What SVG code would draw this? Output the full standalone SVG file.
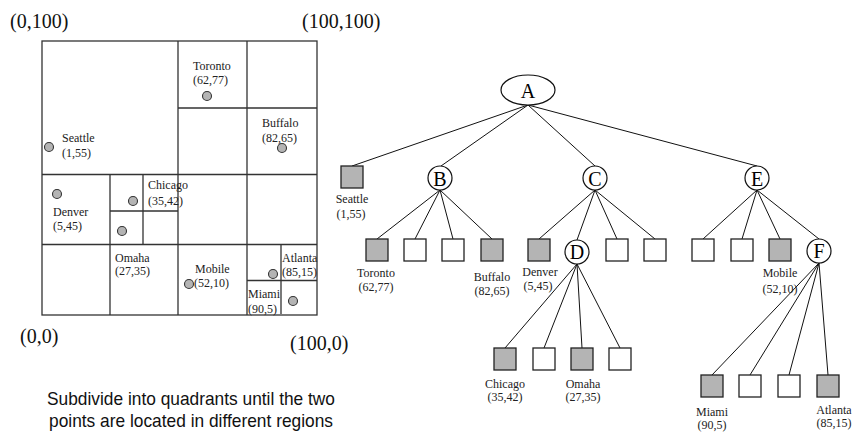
<svg xmlns="http://www.w3.org/2000/svg" width="853" height="434" viewBox="0 0 853 434">
  <style>
    .grid { fill: none; stroke: #333; stroke-width: 1.3; }
    .pt { fill: #b4b4b4; stroke: #333; stroke-width: 1.1; }
    .lbl { font-family: "Liberation Serif", "Times New Roman", serif; font-size: 12px; fill: #222; }
    .mid { text-anchor: middle; }
    .corner { font-family: "Liberation Serif", "Times New Roman", serif; font-size: 20px; fill: #111; }
    .cap { font-family: "Liberation Sans", Arial, sans-serif; font-size: 19px; fill: #111; text-anchor: middle; }
    .edge { stroke: #111; stroke-width: 1; fill: none; }
    .inner { fill: #fff; stroke: #111; stroke-width: 1.2; }
    .leaf { fill: #fff; stroke: #222; stroke-width: 1.3; }
    .full { fill: #b4b4b4; stroke: #222; stroke-width: 1.3; }
    .nl { font-family: "Liberation Serif", "Times New Roman", serif; font-size: 20px; fill: #000; text-anchor: middle; }
  </style>

  <!-- Spatial subdivision of the unit square -->
  <g id="region-map">
    <rect class="grid" x="42" y="41" width="275" height="274"/>
    <path class="grid" d="M178 41V315 M247 41V315 M178 108H317 M42 174.5H317 M42 244.5H317 M110 174.5V315 M143 174.5V244.5 M110 211H178 M247 280.5H317 M281 244.5V314"/>
  </g>

  <g id="corner-labels">
    <text class="corner" x="10" y="28">(0,100)</text>
    <text class="corner" x="302" y="28">(100,100)</text>
    <text class="corner" x="20" y="343">(0,0)</text>
    <text class="corner" x="290" y="350">(100,0)</text>
  </g>

  <g id="map-points">
    <circle class="pt" cx="207" cy="96" r="4.5"/>
    <circle class="pt" cx="282" cy="148" r="4.5"/>
    <circle class="pt" cx="49" cy="147" r="4.5"/>
    <circle class="pt" cx="57" cy="194" r="4.5"/>
    <circle class="pt" cx="133" cy="201" r="4.5"/>
    <circle class="pt" cx="122" cy="231" r="4.5"/>
    <circle class="pt" cx="189" cy="284" r="4.5"/>
    <circle class="pt" cx="273" cy="274" r="4.5"/>
    <circle class="pt" cx="293" cy="301" r="4.5"/>
  </g>

  <g id="map-labels">
    <text class="lbl" x="193" y="70">Toronto</text>
    <text class="lbl" x="193" y="84">(62,77)</text>
    <text class="lbl" x="62" y="142">Seattle</text>
    <text class="lbl" x="62" y="157">(1,55)</text>
    <text class="lbl" x="262" y="127">Buffalo</text>
    <text class="lbl" x="262" y="142">(82,65)</text>
    <text class="lbl" x="148" y="189">Chicago</text>
    <text class="lbl" x="148" y="205">(35,42)</text>
    <text class="lbl" x="53" y="216">Denver</text>
    <text class="lbl" x="53" y="230">(5,45)</text>
    <text class="lbl" x="115" y="262">Omaha</text>
    <text class="lbl" x="115" y="275">(27,35)</text>
    <text class="lbl" x="195" y="273">Mobile</text>
    <text class="lbl" x="194" y="287">(52,10)</text>
    <text class="lbl" x="282" y="262">Atlanta</text>
    <text class="lbl" x="282" y="276">(85,15)</text>
    <text class="lbl" x="248" y="298">Miami</text>
    <text class="lbl" x="248" y="313">(90,5)</text>
  </g>

  <g id="caption">
    <text class="cap" x="191" y="405" textLength="288" lengthAdjust="spacingAndGlyphs">Subdivide into quadrants until the two</text>
    <text class="cap" x="191" y="427" textLength="284" lengthAdjust="spacingAndGlyphs">points are located in different regions</text>
  </g>

  <!-- Tree edges -->
  <g id="connectors">
    <path class="edge" d="M528 105L352 166 M528 105L441 166 M528 105L595 166 M528 105L757 166"/>
    <path class="edge" d="M440 190L377 239 M440 190L415 239 M440 190L453 239 M440 190L492 239"/>
    <path class="edge" d="M595 190L539 239 M595 190L577 240 M595 190L617 239 M595 190L655 239"/>
    <path class="edge" d="M757 190L703 239 M757 190L742 239 M757 190L780 239 M757 190L819 239"/>
    <path class="edge" d="M577 264L505 348 M577 264L544 348 M577 264L582 348 M577 264L620 348"/>
    <path class="edge" d="M819 263L712 375 M819 263L750 375 M819 263L789 375 M819 263L828 375"/>
  </g>

  <g id="node-A">
    <ellipse class="inner" cx="528" cy="90" rx="27" ry="15"/>
    <text class="nl" x="528" y="98">A</text>
  </g>
  <g id="node-B">
    <circle class="inner" cx="440" cy="178" r="12"/>
    <text class="nl" x="440" y="185.5">B</text>
  </g>
  <g id="node-C">
    <circle class="inner" cx="595" cy="178" r="12"/>
    <text class="nl" x="595" y="185.5">C</text>
  </g>
  <g id="node-E">
    <circle class="inner" cx="757" cy="178" r="12"/>
    <text class="nl" x="757" y="185.5">E</text>
  </g>
  <g id="node-D">
    <circle class="inner" cx="577" cy="252" r="12"/>
    <text class="nl" x="577" y="259">D</text>
  </g>
  <g id="node-F">
    <circle class="inner" cx="819" cy="251" r="12"/>
    <text class="nl" x="819" y="258">F</text>
  </g>

  <g id="leaf-seattle">
    <rect class="full" x="341" y="166" width="22" height="22"/>
    <text class="lbl mid" x="352" y="203">Seattle</text>
    <text class="lbl mid" x="351" y="218">(1,55)</text>
  </g>
  <g id="leaf-toronto">
    <rect class="full" x="366" y="239" width="22" height="22"/>
    <text class="lbl mid" x="376" y="277">Toronto</text>
    <text class="lbl mid" x="376" y="291">(62,77)</text>
  </g>
  <g id="leaf-b2"><rect class="leaf" x="404" y="239" width="22" height="22"/></g>
  <g id="leaf-b3"><rect class="leaf" x="442" y="239" width="22" height="22"/></g>
  <g id="leaf-buffalo">
    <rect class="full" x="481" y="239" width="22" height="22"/>
    <text class="lbl mid" x="492" y="281">Buffalo</text>
    <text class="lbl mid" x="492" y="295">(82,65)</text>
  </g>
  <g id="leaf-denver">
    <rect class="full" x="528" y="239" width="22" height="22"/>
    <text class="lbl mid" x="540" y="276">Denver</text>
    <text class="lbl mid" x="538" y="290">(5,45)</text>
  </g>
  <g id="leaf-c3"><rect class="leaf" x="606" y="239" width="22" height="22"/></g>
  <g id="leaf-c4"><rect class="leaf" x="644" y="239" width="22" height="22"/></g>
  <g id="leaf-e1"><rect class="leaf" x="692" y="239" width="22" height="22"/></g>
  <g id="leaf-e2"><rect class="leaf" x="731" y="239" width="22" height="22"/></g>
  <g id="leaf-mobile">
    <rect class="full" x="769" y="239" width="22" height="22"/>
    <text class="lbl mid" x="780" y="277">Mobile</text>
    <text class="lbl mid" x="780" y="293">(52,10)</text>
  </g>
  <g id="leaf-chicago">
    <rect class="full" x="494" y="348" width="22" height="22"/>
    <text class="lbl mid" x="505" y="388">Chicago</text>
    <text class="lbl mid" x="505" y="401">(35,42)</text>
  </g>
  <g id="leaf-d2"><rect class="leaf" x="533" y="348" width="22" height="22"/></g>
  <g id="leaf-omaha">
    <rect class="full" x="571" y="348" width="22" height="22"/>
    <text class="lbl mid" x="583" y="388">Omaha</text>
    <text class="lbl mid" x="583" y="401">(27,35)</text>
  </g>
  <g id="leaf-d4"><rect class="leaf" x="609" y="348" width="22" height="22"/></g>
  <g id="leaf-miami">
    <rect class="full" x="701" y="375" width="22" height="22"/>
    <text class="lbl mid" x="712" y="416">Miami</text>
    <text class="lbl mid" x="712" y="429">(90,5)</text>
  </g>
  <g id="leaf-f2"><rect class="leaf" x="739" y="375" width="22" height="22"/></g>
  <g id="leaf-f3"><rect class="leaf" x="778" y="375" width="22" height="22"/></g>
  <g id="leaf-atlanta">
    <rect class="full" x="817" y="375" width="22" height="22"/>
    <text class="lbl mid" x="834" y="414">Atlanta</text>
    <text class="lbl mid" x="834" y="427">(85,15)</text>
  </g>
</svg>
